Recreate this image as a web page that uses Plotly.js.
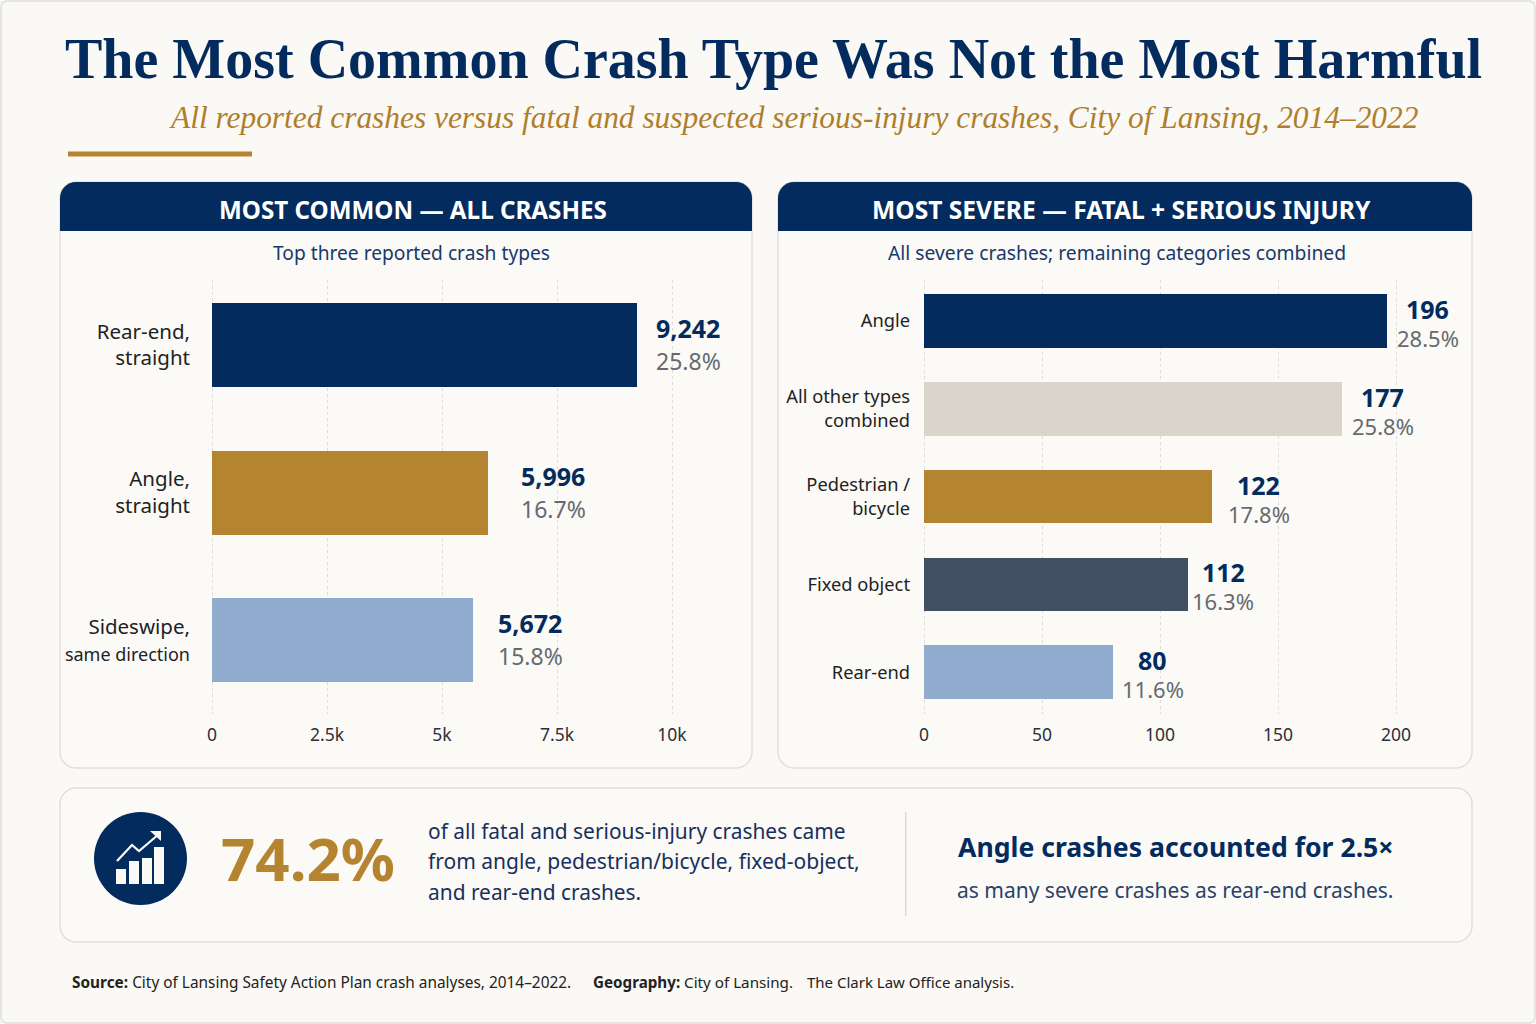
<!DOCTYPE html>
<html><head><meta charset="utf-8">
<script src="https://cdn.plot.ly/plotly-3.0.1.min.js"></script>
<style>html,body{margin:0;padding:0;background:#FBF9F5}#c{width:1536px;height:1024px}</style></head>
<body><div id="c"></div>
<script>
const commonCats = ['Rear-end,<br>straight','Angle,<br>straight','Sideswipe,<br><span style="font-size:18px">same direction</span>'];
const commonVals = [9242,5996,5672];
const commonPct = ['25.8%','16.7%','15.8%'];
const commonCols = ['#032B5E','#B58430','#90ABCD'];
const severeCats = ['Angle','All other types<br>combined','Pedestrian /<br>bicycle','Fixed object','Rear-end'];
const severeVals = [196,177,122,112,80];
const severePct = ['28.5%','25.8%','17.8%','16.3%','11.6%'];
const severeCols = ['#032B5E','#D9D5CA','#B58430','#424F62','#90ABCD'];
const commonTicks = [0,2500,5000,7500,10000];
const commonTickText = ['0','2.5k','5k','7.5k','10k'];
const severeTicks = [0,50,100,150,200];

const W=1536,H=1024, NAVY='#032B5E', GOLD='#B58430', SANS='"Noto Sans", sans-serif', SERIF='"Liberation Serif", serif';
const px=x=>x/W, py=y=>1-y/H;
function rrect(x0,y0,x1,y1,r,fill,line){
  const k=r*0.45;
  const d=`M${px(x0+r)},${py(y0)} L${px(x1-r)},${py(y0)} C${px(x1-k)},${py(y0)} ${px(x1)},${py(y0+k)} ${px(x1)},${py(y0+r)} L${px(x1)},${py(y1-r)} C${px(x1)},${py(y1-k)} ${px(x1-k)},${py(y1)} ${px(x1-r)},${py(y1)} L${px(x0+r)},${py(y1)} C${px(x0+k)},${py(y1)} ${px(x0)},${py(y1-k)} ${px(x0)},${py(y1-r)} L${px(x0)},${py(y0+r)} C${px(x0)},${py(y0+k)} ${px(x0+k)},${py(y0)} ${px(x0+r)},${py(y0)} Z`;
  return {type:'path',xref:'paper',yref:'paper',path:d,fillcolor:fill,line:line?{color:line,width:1.5}:{width:0},layer:'below'};
}
function hdr(x0,y0,x1,y1,r){
  const k=r*0.45;
  const d=`M${px(x0)},${py(y1)} L${px(x0)},${py(y0+r)} C${px(x0)},${py(y0+k)} ${px(x0+k)},${py(y0)} ${px(x0+r)},${py(y0)} L${px(x1-r)},${py(y0)} C${px(x1-k)},${py(y0)} ${px(x1)},${py(y0+k)} ${px(x1)},${py(y0+r)} L${px(x1)},${py(y1)} Z`;
  return {type:'path',xref:'paper',yref:'paper',path:d,fillcolor:NAVY,line:{width:0},layer:'below'};
}
function box(x0,y0,x1,y1,fill,layer){return {type:'rect',xref:'paper',yref:'paper',x0:px(x0),x1:px(x1),y0:py(y0),y1:py(y1),fillcolor:fill,line:{width:0},layer:layer||'above'};}
function seg(pts,color,width,fill){
  const d=pts.map((p,i)=>(i?'L':'M')+px(p[0])+','+py(p[1])).join(' ')+(fill?' Z':'');
  return {type:'path',xref:'paper',yref:'paper',path:d,line:{color:color,width:width},fillcolor:fill||'rgba(0,0,0,0)',layer:'above'};
}
function txt(x,y,t,size,color,anchor,family){
  return {xref:'paper',yref:'paper',x:px(x),y:py(y),text:t,showarrow:false,xanchor:anchor||'left',yanchor:'middle',
    font:{size:size,color:color,family:family||SANS},align:anchor||'left',borderpad:0,borderwidth:0};
}
const shapes=[
  rrect(1,1,1535,1023,6,'#FBF9F5','#DEDEDC'),
  box(68,151.5,252,156.5,GOLD,'below'),
  rrect(60,182,752,768,16,'#FBFAF7','#DFDFDB'),
  hdr(60,182,752,231,16),
  rrect(778,182,1472,768,16,'#FBFAF7','#DFDFDB'),
  hdr(778,182,1472,231,16),
  rrect(60,788,1472,942,16,'#FBFAF7','#DFDFDB'),
  box(905,812,906.5,916,'#DAD9D5','below'),
  {type:'circle',xref:'paper',yref:'paper',x0:px(94),x1:px(187),y0:py(905),y1:py(812),fillcolor:NAVY,line:{width:0},layer:'above'},
  box(116,869,126,884,'#FBF9F5'), box(129,861,139,884,'#FBF9F5'), box(142,858,152,884,'#FBF9F5'), box(154,847,164,884,'#FBF9F5'),
  seg([[117,861],[132,845],[139,851],[159,834]],'#FBF9F5',2.2),
  seg([[150,831],[161,831],[161,841]],'#FBF9F5',0,'#FBF9F5')
];
const ann=[
  txt(773,58.5,'<b>The Most Common Crash Type Was Not the Most Harmful</b>',56,NAVY,'center',SERIF),
  txt(793,117.5,'<i>All reported crashes versus fatal and suspected serious-injury crashes, City of Lansing, 2014–2022</i>',31.4,'#B07E2A','center',SERIF),
  txt(413,209.5,'<b>MOST COMMON — ALL CRASHES</b>',24.2,'#FFFFFF','center'),
  txt(1121.5,209.5,'<b>MOST SEVERE — FATAL + SERIOUS INJURY</b>',24.6,'#FFFFFF','center'),
  txt(411,252,'Top three reported crash types',19.2,'#17396B','center'),
  txt(1117,252,'All severe crashes; remaining categories combined',19.3,'#17396B','center'),
  txt(221,858,'<b>74.2%</b>',60,GOLD,'left'),
  txt(428,830.5,'of all fatal and serious-injury crashes came',20.9,'#17305C','left'),
  txt(428,861,'from angle, pedestrian/bicycle, fixed-object,',21,'#17305C','left'),
  txt(428,891.5,'and rear-end crashes.',20.9,'#17305C','left'),
  txt(958,846.5,'<b>Angle crashes accounted for 2.5×</b>',26.6,NAVY,'left'),
  txt(957,889.5,'as many severe crashes as rear-end crashes.',21,'#2A4268','left'),
  txt(72,982,'<b>Source:</b> City of Lansing Safety Action Plan crash analyses, 2014–2022.',15.4,'#222','left'),
  txt(593,982,'<b>Geography:</b> City of Lansing.',15.2,'#222','left'),
  txt(807,982,'The Clark Law Office analysis.',15,'#222','left')
];
// horizontal nudges of the value labels, matching the reference's placement
const commonShift=[17,31,23], severeShift=[41,41,47,35,40];
commonCats.forEach((c,i)=>{
  const lab=commonVals[i].toLocaleString('en-US');
  ann.push({xref:'x',yref:'y',x:commonVals[i],y:c,text:'<b>'+lab+'</b>',showarrow:false,xanchor:'left',xshift:commonShift[i],yshift:17,font:{size:25,color:NAVY,family:SANS}});
  ann.push({xref:'x',yref:'y',x:commonVals[i],y:c,text:commonPct[i],showarrow:false,xanchor:'left',xshift:commonShift[i],yshift:-16,font:{size:23,color:'#666A70',family:SANS}});
});
severeCats.forEach((c,i)=>{
  ann.push({xref:'x2',yref:'y2',x:severeVals[i],y:c,text:'<b>'+severeVals[i]+'</b>',showarrow:false,xanchor:'center',xshift:severeShift[i],yshift:12,font:{size:25,color:NAVY,family:SANS}});
  ann.push({xref:'x2',yref:'y2',x:severeVals[i],y:c,text:severePct[i],showarrow:false,xanchor:'center',xshift:severeShift[i],yshift:-17,font:{size:22,color:'#666A70',family:SANS}});
});
const traces=[
  {type:'bar',orientation:'h',x:commonVals,y:commonCats,xaxis:'x',yaxis:'y',width:0.57,marker:{color:commonCols},hoverinfo:'skip'},
  {type:'bar',orientation:'h',x:severeVals,y:severeCats,xaxis:'x2',yaxis:'y2',width:0.61,marker:{color:severeCols},hoverinfo:'skip'}
];
// domains start 2px left of zero so the gridline at 0 is drawn
const ls=0.046, rs=2.36, lx0=212,lx1=720,rx0=924,rx1=1460;
const axisBase={showline:false,zeroline:false,showgrid:true,griddash:'3px,3px',gridcolor:'#DDDCD8',gridwidth:1,ticks:'',ticklen:0,tickfont:{size:17.5,color:'#2B2F36',family:SANS},ticklabelstandoff:8,fixedrange:true};
const catBase={type:'category',showline:false,zeroline:false,showgrid:false,ticks:'',ticklen:0,fixedrange:true,color:'#222'};
const layout={
  width:W,height:H,margin:{l:0,r:0,t:0,b:0,pad:0},paper_bgcolor:'#FBF9F5',plot_bgcolor:'rgba(0,0,0,0)',showlegend:false,bargap:0,
  xaxis:Object.assign({},axisBase,{domain:[px(lx0-2),px(lx1)],range:[-2/ls,(lx1-lx0)/ls],tickvals:commonTicks,ticktext:commonTickText,anchor:'y'}),
  yaxis:Object.assign({},catBase,{domain:[py(714),py(280)],range:[2.5,-0.44],categoryorder:'array',categoryarray:commonCats,anchor:'x',tickfont:{size:20.5,color:'#222',family:SANS},ticklabelstandoff:19}),
  xaxis2:Object.assign({},axisBase,{domain:[px(rx0-2),px(rx1)],range:[-2/rs,(rx1-rx0)/rs],tickvals:severeTicks,anchor:'y2'}),
  yaxis2:Object.assign({},catBase,{domain:[py(714),py(280)],range:[4.477,-0.466],categoryorder:'array',categoryarray:severeCats,anchor:'x2',tickfont:{size:18.3,color:'#222',family:SANS},ticklabelstandoff:11}),
  shapes:shapes,annotations:ann
};
Plotly.newPlot('c',traces,layout,{displayModeBar:false,staticPlot:true});
</script></body></html>
